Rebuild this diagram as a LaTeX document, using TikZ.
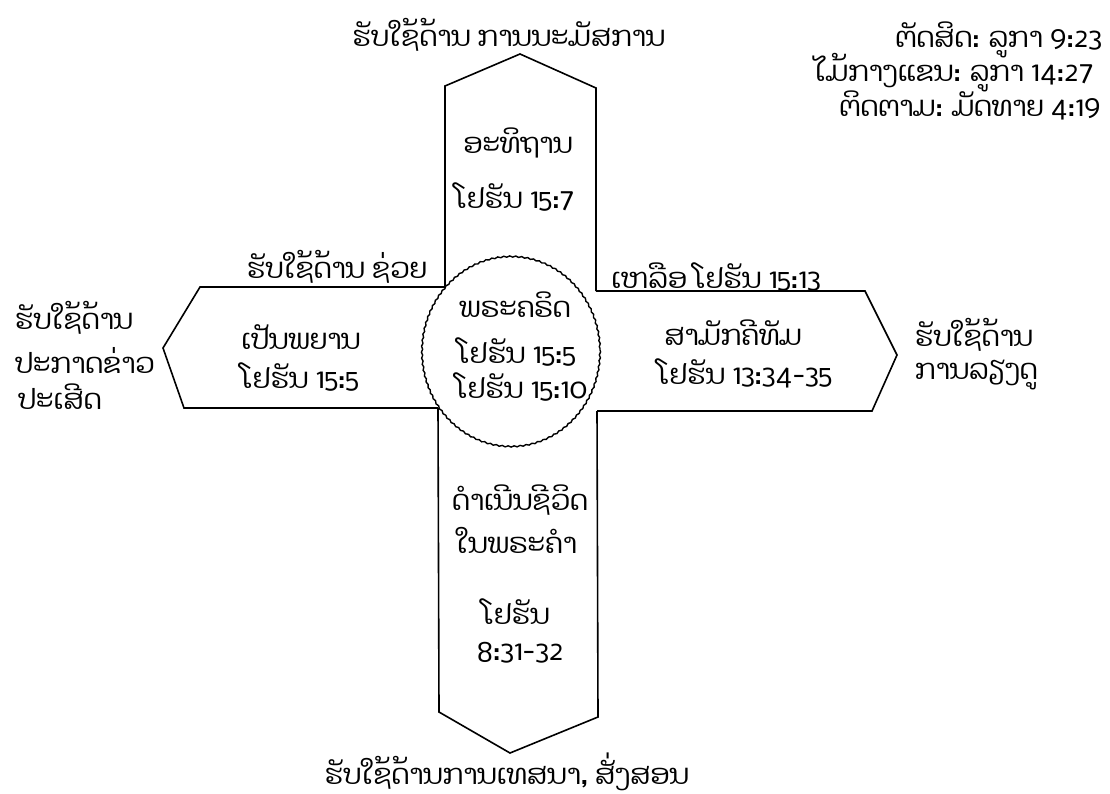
\documentclass[tikz,border=0pt]{standalone}
\usepackage{fontspec}
\setmainfont[Script=Lao]{Dhyana}
\usetikzlibrary{decorations.pathmorphing}
\tikzset{
  outline/.style={line width=1.6pt, line join=miter},
  lbl/.style={font=\fontsize{28}{32}\selectfont, inner sep=0pt, align=center},
}
\begin{document}
\begin{tikzpicture}[x=1pt,y=-1pt]
\useasboundingbox (0,0) rectangle (1110,793);
% arms
\draw[outline] (445,287) -- (445,86) -- (520,54) -- (596,88) -- (596,291);
\draw[outline] (438,408) -- (439,712) -- (510,753) -- (598,717) -- (597,411);
\draw[outline] (445,287) -- (200,287) -- (163,348) -- (184,408) -- (438,408);
\draw[outline] (596,291) -- (865,291) -- (897,355) -- (872,411) -- (597,411);
% centre circle
\draw[line width=1.4pt, fill=white, decorate, decoration={snake, segment length=6pt, amplitude=0.6pt}]
  (511,350) ellipse [x radius=89, y radius=95];
% texts
\node[lbl] (top) at (509,35) {ຮັບໃຊ້ດ້ານ ການນະມັສການ};
\node[lbl] (pray) at (518,143) {ອະທິຖານ};
\node[lbl] (pray2) at (515,197) {ໂຢຮັນ 15:7};
\node[lbl, anchor=east] (r1) at (1102,40) {ຕັດສິດ: ລູກາ 9:23};
\node[lbl, anchor=east] (r2) at (1094,73) {ໄມ້ກາງແຂນ: ລູກາ 14:27};
\node[lbl, anchor=east] (r3) at (1101,105) {ຕິດຕາມ: ມັດທາຍ 4:19};
\node[lbl] (help) at (337,267) {ຮັບໃຊ້ດ້ານ ຊ່ວຍ};
\node[lbl] (wit) at (301,337) {ເປັນພຍານ};
\node[lbl] (wit2) at (300,377) {ໂຢຮັນ 15:5};
\node[lbl, anchor=west] (l1) at (15,318) {ຮັບໃຊ້ດ້ານ};
\node[lbl, anchor=west] (l2) at (15,360) {ປະກາດຂ່າວ};
\node[lbl, anchor=west] (l3) at (18,397) {ປະເສີດ};
\node[lbl] (c1) at (515,305) {ພຣະຄຣິດ};
\node[lbl] (c2) at (517,352) {ໂຢຮັນ 15:5};
\node[lbl] (c3) at (522,387) {ໂຢຮັນ 15:10};
\node[lbl] (hl) at (716,277) {ເຫລືອ ໂຢຮັນ 15:13};
\node[lbl] (fel) at (733,333) {ສາມັກຄີທັມ};
\node[lbl] (fel2) at (745,373) {ໂຢຮັນ 13:34-35};
\node[lbl, anchor=west, align=left, font=\fontsize{28}{33}\selectfont] (e) at (915,354) {ຮັບໃຊ້ດ້ານ\\ການລຽງດູ};
\node[lbl, anchor=west] (b1) at (452,500) {ດຳເນີນຊີວິດ};
\node[lbl, anchor=west] (b2) at (456,540) {ໃນພຣະຄຳ};
\node[lbl] (b3) at (516,612) {ໂຢຮັນ};
\node[lbl] (b4) at (520,653) {8:31-32};
\node[lbl] (bot) at (507,772) {ຮັບໃຊ້ດ້ານການເທສນາ, ສັ່ງສອນ};
\end{tikzpicture}
\end{document}
